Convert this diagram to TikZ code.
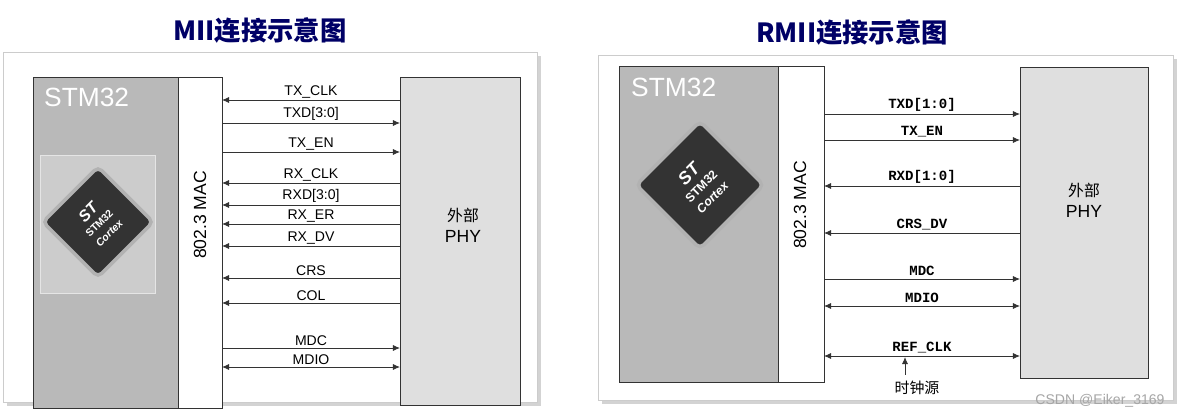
\documentclass[tikz,border=0pt]{standalone}
\usepackage{fontspec}
\setmainfont{Liberation Sans}
\newfontfamily\cjk{Noto Sans CJK SC}
\newfontfamily\mono{Liberation Mono}
\usetikzlibrary{arrows.meta,shadows}
\begin{document}
\begin{tikzpicture}[x=0.02cm,y=-0.02cm,
  frame/.style={draw=gray!40,fill=white,drop shadow={opacity=0.35,shadow xshift=2pt,shadow yshift=-2pt}},
  blk/.style={draw=black!80,line width=0.8pt},
  chip/.style={fill=black!80,rounded corners=3pt,rotate=45,draw=gray!60,line width=2pt,text=white,align=center,font=\bfseries\fontsize{6}{7}\selectfont},
  sig/.style={line width=0.5pt,draw=black!80,-{Latex[length=4pt,width=3.5pt]}},
  bsig/.style={line width=0.5pt,draw=black!80,{Latex[length=4pt,width=3.5pt]}-{Latex[length=4pt,width=3.5pt]}},
  lab/.style={font=\fontsize{8}{9}\selectfont,above,inner sep=1pt},
  mlab/.style={font=\mono\bfseries\fontsize{8}{9}\selectfont,above,inner sep=1.5pt},
  ttl/.style={font=\cjk\bfseries\fontsize{15}{16}\selectfont,text=blue!40!black}]
\useasboundingbox (0,0) rectangle (1179,417);
% ---------- left ----------
\node[ttl] (t1) at (260,30) {MII连接示意图};
\fill[frame] (3,52) rectangle (537,402);
\node[blk,fill=gray!55,minimum width=145*0.02cm,minimum height=331*0.02cm,anchor=north west] (s1) at (33,77) {};
\node[anchor=north west,text=white,font=\fontsize{15}{16}\selectfont] (s1t) at (38,82) {STM32};
\node[blk,fill=white,minimum width=44*0.02cm,minimum height=331*0.02cm,anchor=north west] (m1) at (178,77) {};
\node[rotate=90,font=\fontsize{10}{11}\selectfont] (m1t) at (200,215) {802.3 MAC};
\node[blk,fill=gray!25,minimum width=120*0.02cm,minimum height=328*0.02cm,anchor=north west] (p1) at (400,77) {};
\node[align=center,font=\fontsize{10}{12}\selectfont] (p1t) at (463,225) {{\cjk\fontsize{9}{11}\selectfont 外部}\\PHY};
\node[draw=gray!20,fill=gray!40,minimum width=115*0.02cm,minimum height=138*0.02cm,anchor=north west] (c1) at (40,155) {};
\node[chip,minimum size=78*0.02cm] (ch1) at (98,222) {{\fontsize{9}{10}\selectfont\itshape ST}\\[1pt]STM32\\[1pt]{\itshape Cortex}};
\foreach \y/\t/\d in {100/TX\_CLK/l,123/TXD[3:0]/r,152/TX\_EN/r,183/RX\_CLK/l,205/RXD[3:0]/l,224/RX\_ER/l,246/RX\_DV/l,278/CRS/l,303/COL/l,348/MDC/r,367/MDIO/b}{
  \coordinate (L\y) at (222,\y); \coordinate (R\y) at (400,\y);
  \if\d l \draw[sig] (R\y) -- (L\y) node[lab,pos=0.5] {\t};\fi
  \if\d r \draw[sig] (L\y) -- (R\y) node[lab,pos=0.5] {\t};\fi
  \if\d b \draw[bsig] (L\y) -- (R\y) node[lab,pos=0.5] {\t};\fi
}
% ---------- right ----------
\node[ttl] (t2) at (852,32) {RMII连接示意图};
\fill[frame] (598,55) rectangle (1173,400);
\node[blk,fill=gray!55,minimum width=159*0.02cm,minimum height=316*0.02cm,anchor=north west] (s2) at (619,66) {};
\node[anchor=north west,text=white,font=\fontsize{15}{16}\selectfont] (s2t) at (625,72) {STM32};
\node[blk,fill=white,minimum width=46*0.02cm,minimum height=316*0.02cm,anchor=north west] (m2) at (778,66) {};
\node[rotate=90,font=\fontsize{10}{11}\selectfont] (m2t) at (800,205) {802.3 MAC};
\node[blk,fill=gray!25,minimum width=128*0.02cm,minimum height=311*0.02cm,anchor=north west] (p2) at (1020,67) {};
\node[align=center,font=\fontsize{10}{12}\selectfont] (p2t) at (1084,200) {{\cjk\fontsize{9}{11}\selectfont 外部}\\PHY};
\node[chip,minimum size=90*0.02cm,font=\bfseries\fontsize{7}{8}\selectfont] (ch2) at (700,185) {{\fontsize{10}{11}\selectfont\itshape ST}\\[1pt]STM32\\[1pt]{\itshape Cortex}};
\foreach \y/\t/\d in {114/TXD[1:0]/r,140/TX\_EN/r,186/RXD[1:0]/l,233/CRS\_DV/l,279/MDC/r,306/MDIO/b,356/REF\_CLK/b}{
  \coordinate (A\y) at (824,\y); \coordinate (B\y) at (1020,\y);
  \if\d l \draw[sig] (B\y) -- (A\y) node[mlab,pos=0.5] {\t};\fi
  \if\d r \draw[sig] (A\y) -- (B\y) node[mlab,pos=0.5] {\t};\fi
  \if\d b \draw[bsig] (A\y) -- (B\y) node[mlab,pos=0.5] {\t};\fi
}
\node[font=\cjk\fontsize{8.5}{10}\selectfont] (clk) at (917,388) {时钟源};
\coordinate (ck) at (905,357);
\draw[sig] (clk.north -| ck) -- (ck);
\node[text=gray!70,font=\fontsize{8}{9}\selectfont] (wm) at (1100,401) {CSDN @Eiker\_3169};
\end{tikzpicture}
\end{document}
